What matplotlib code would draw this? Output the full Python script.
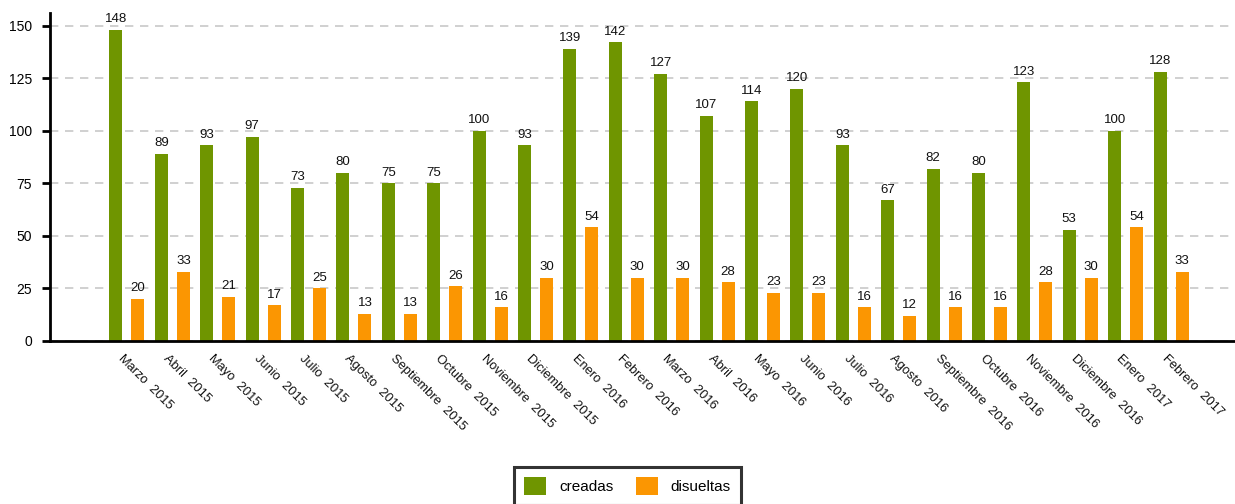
import matplotlib
matplotlib.use("Agg")
import matplotlib.pyplot as plt
import numpy as np

plt.rcParams['font.family'] = ['Liberation Sans', 'DejaVu Sans']

categories = ["Marzo  2015", "Abril  2015", "Mayo  2015", "Junio  2015", "Julio  2015",
              "Agosto  2015", "Septiembre  2015", "Octubre  2015", "Noviembre  2015",
              "Diciembre  2015", "Enero  2016", "Febrero  2016", "Marzo  2016", "Abril  2016",
              "Mayo  2016", "Junio  2016", "Julio  2016", "Agosto  2016", "Septiembre  2016",
              "Octubre  2016", "Noviembre  2016", "Diciembre  2016", "Enero  2017", "Febrero  2017"]
creadas = [148, 89, 93, 97, 73, 80, 75, 75, 100, 93, 139, 142, 127, 107, 114, 120, 93, 67, 82, 80, 123, 53, 100, 128]
disueltas = [20, 33, 21, 17, 25, 13, 13, 26, 16, 30, 54, 30, 30, 28, 23, 23, 16, 12, 16, 16, 28, 30, 54, 33]
yticks = [0, 25, 50, 75, 100, 125, 150]

W, H = 1235, 504
fig = plt.figure(figsize=(W/100, H/100), dpi=100)
ax = fig.add_axes([50/W, 1-341/H, 1-50/W, (341-13)/H])

green = '#6f9500'
orange = '#fb9602'
x = np.arange(len(categories))
bw = 13/45.4
off = 11/45.4
b1 = ax.bar(x - off, creadas, bw, color=green, label='creadas', zorder=3)
b2 = ax.bar(x + off, disueltas, bw, color=orange, label='disueltas', zorder=3)

for rects, vals in ((b1, creadas), (b2, disueltas)):
    for r, v in zip(rects, vals):
        ax.text(r.get_x() + r.get_width()/2, v + 2.2, str(v), ha='center', va='bottom',
                fontsize=9.5, color='#111111', zorder=4, clip_on=True)

ax.set_xlim(-77/45.4, len(categories) - 1 + 64/45.4)
ax.set_ylim(0, 156)
ax.set_yticks(yticks)
ax.set_yticklabels([str(t) for t in yticks], fontsize=10)
ax.yaxis.grid(True, linestyle=(0, (5, 4)), color='#c8c8c8', linewidth=1.2, zorder=0)
ax.set_axisbelow(True)
ax.tick_params(axis='y', length=6, width=2, color='black', pad=7)
ax.tick_params(axis='x', length=0, pad=2)

for s in ['top', 'right']:
    ax.spines[s].set_visible(False)
ax.spines['left'].set_linewidth(2)
ax.spines['bottom'].set_linewidth(2)
ax.spines['bottom'].set_zorder(5)

ax.set_xticks(x)
ax.set_xticklabels([])
for xi, lab in zip(x, categories):
    ax.text(xi - 3/45.4, -5.5, lab, rotation=-45, rotation_mode='anchor', ha='left', va='top',
            fontsize=9.3, color='#111111', transform=ax.transData, clip_on=False)

leg = fig.legend(handles=[b1, b2], loc='upper center', bbox_to_anchor=(627.5/W, 1-467/H),
                 ncol=2, fontsize=11, frameon=True, fancybox=False, edgecolor='black',
                 handlelength=1.45, handleheight=1.45, handletextpad=0.85, columnspacing=1.45,
                 borderpad=0.65, borderaxespad=0)
leg.get_frame().set_linewidth(2.2)

fig.savefig('out.png', dpi=100)
